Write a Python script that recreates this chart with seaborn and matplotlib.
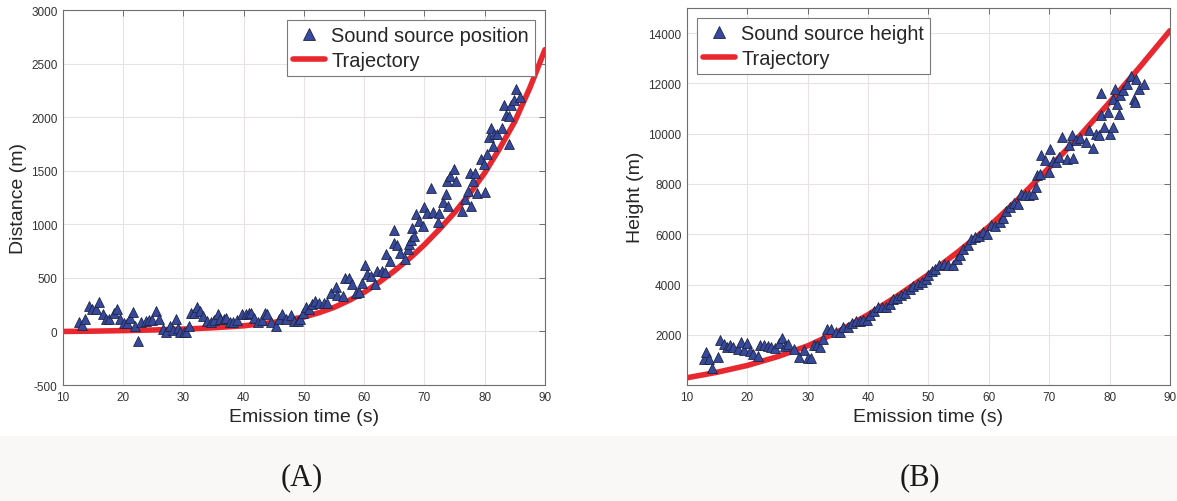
import numpy as np
import pandas as pd
import matplotlib
matplotlib.use("Agg")
import matplotlib.pyplot as plt
import seaborn as sns
from matplotlib.lines import Line2D

# ---------------- data ----------------
# Panel A: sound source position (distance)
pos_t = [12.6, 13.2, 13.7, 14.3, 14.9, 15.4, 16.0, 16.6, 17.1, 17.7, 18.4, 19.0, 19.5, 20.1, 20.6,
         21.2, 21.6, 22.0, 22.5, 23.0, 23.7, 24.2, 24.8, 25.5, 25.9, 26.6, 27.1, 27.7, 28.2, 28.8,
         29.1, 29.4, 30.1, 30.4, 31.0, 31.3, 31.7, 32.3, 32.8, 33.3, 33.9, 34.5, 35.0, 35.7, 36.1,
         36.7, 37.1, 37.7, 38.3, 38.9, 39.7, 40.3, 40.9, 41.2, 41.7, 42.4, 43.0, 43.5, 43.9, 44.5,
         45.3, 45.9, 46.4, 47.1, 47.8, 48.3, 49.0, 49.4, 49.9, 50.3, 50.8, 51.4, 51.8, 52.5, 53.3,
         53.9, 54.5, 55.3, 55.5, 56.4, 56.8, 57.5, 58.0, 58.6, 59.2, 59.7, 60.1, 60.5, 61.1, 61.8,
         62.2, 63.0, 63.4, 63.7, 64.3, 64.9, 64.9, 65.5, 65.9, 66.7, 67.2, 67.5, 67.7, 68.0, 68.3,
         68.6, 69.1, 69.7, 69.9, 70.5, 71.1, 71.5, 72.2, 72.4, 73.0, 73.5, 73.8, 73.9, 74.3, 74.9,
         75.2, 76.3, 76.7, 77.2, 77.6, 77.7, 78.1, 78.4, 78.7, 79.4, 79.9, 80.0, 80.4, 80.7, 81.0,
         81.3, 81.6, 82.1, 82.9, 83.2, 83.5, 84.1, 84.1, 84.4, 84.8, 85.2, 85.9]
pos_d = [90, 59, 121, 239, 214, 214, 276, 161, 121, 121, 171, 214, 115, 78, 78,
         127, 183, 47, -90, 84, 99, 109, 109, 193, 115, 22, -9, 53, 12, 115,
         37, -9, -9, -9, 53, 177, 177, 224, 193, 140, 99, 90, 109, 161, 115,
         115, 130, 90, 84, 109, 161, 161, 171, 171, 130, 90, 109, 177, 161, 84,
         47, 115, 161, 115, 152, 99, 99, 121, 177, 224, 214, 255, 286, 264, 264,
         270, 363, 419, 339, 332, 503, 503, 441, 363, 370, 457, 618, 534, 519, 441,
         565, 565, 556, 721, 658, 944, 829, 804, 736, 680, 773, 814, 854, 969, 891,
         1093, 1031, 985, 1165, 1109, 1342, 1115, 1022, 1103, 1208, 1280, 1404, 1171, 1450, 1519,
         1404, 1124, 1233, 1311, 1482, 1171, 1404, 1482, 1295, 1606, 1559, 1301, 1652, 1817, 1901,
         1730, 1839, 1839, 1901, 2118, 2025, 1746, 2010, 2118, 2165, 2264, 2190]

traj_t = [10, 15, 20, 25, 30, 35, 40, 45, 50, 52.5, 55, 57.5, 60, 62.5, 65, 67.5, 70,
          72.5, 75, 77.5, 80, 82.5, 85, 87.5, 90]
traj_d = [0, 3, 8, 14, 22, 35, 53, 85, 135, 175, 225, 290, 365, 460, 565, 680, 810,
          955, 1110, 1285, 1480, 1710, 1960, 2275, 2630]

# Panel B: sound source height
hgt_t = [12.8, 13.2, 13.6, 14.2, 15.1, 15.5, 16.1, 16.6, 17.2, 17.7, 18.4, 18.9, 19.4, 19.9, 20.5,
         21.0, 21.7, 22.1, 22.8, 23.4, 23.9, 24.6, 25.2, 25.8, 26.3, 26.8, 27.7, 28.5, 29.4, 30.0,
         30.6, 31.0, 31.5, 32.1, 32.6, 33.2, 33.8, 34.6, 35.4, 35.9, 36.6, 37.3, 38.0, 38.7, 39.2,
         39.8, 40.3, 40.9, 41.6, 42.3, 43.0, 43.7, 44.2, 44.8, 45.4, 46.1, 46.9, 47.5, 48.2, 48.9,
         49.6, 50.0, 50.6, 51.1, 51.7, 52.5, 53.3, 54.1, 54.7, 55.2, 55.8, 56.5, 57.0, 57.7, 58.4,
         59.1, 59.7, 60.3, 61.0, 61.8, 62.3, 62.9, 63.5, 64.1, 64.9, 65.3, 66.0, 66.6, 67.3, 67.8,
         68.0, 68.5, 68.6, 69.3, 69.9, 70.2, 70.6, 71.1, 71.7, 72.2, 72.9, 73.3, 73.7, 74.0, 74.4,
         75.1, 76.1, 76.6, 77.3, 77.8, 78.3, 78.5, 78.5, 79.0, 79.8, 80.1, 80.5, 80.6, 80.9, 81.3,
         81.6, 81.7, 82.2, 82.9, 83.6, 84.1, 84.2, 84.4, 84.9, 85.7]
hgt_h = [1021, 1313, 1048, 676, 1114, 1777, 1645, 1512, 1578, 1512, 1446, 1711, 1379, 1671, 1340,
         1247, 1154, 1605, 1578, 1552, 1512, 1472, 1684, 1870, 1552, 1645, 1446, 1114, 1379, 1074,
         1074, 1578, 1578, 1512, 1844, 2215, 2241, 2109, 2109, 2308, 2308, 2480, 2533, 2533, 2573,
         2573, 2772, 2944, 3103, 3103, 3103, 3236, 3435, 3475, 3568, 3660, 3833, 3939, 4032, 4098,
         4231, 4363, 4536, 4629, 4761, 4828, 4788, 4788, 5027, 5159, 5424, 5557, 5822, 5889, 5928,
         6088, 6021, 6353, 6326, 6485, 6645, 6910, 7082, 7255, 7215, 7613, 7546, 7546, 7613, 7878,
         8342, 8408, 9138, 8939, 8475, 9403, 8899, 8873, 9072, 9867, 9005, 9536, 9960, 9032, 9735,
         9828, 9668, 10133, 9430, 10000, 9934, 11618, 10730, 10265, 10862, 10000, 10265, 11392, 11764, 11194,
         10796, 11525, 11724, 11989, 12294, 11392, 11260, 12188, 11764, 11989]

traj_h_t = [10, 15, 20, 25, 30, 35, 40, 45, 50, 55, 60, 65, 70, 75, 80, 85, 90]
traj_h = [290, 510, 780, 1130, 1560, 2120, 2800, 3570, 4400, 5320, 6300, 7430, 8650, 9900, 11250, 12650, 14100]

x_ticks = [10, 20, 30, 40, 50, 60, 70, 80, 90]
yA_ticks = [-500, 0, 500, 1000, 1500, 2000, 2500, 3000]
yB_ticks = [2000, 4000, 6000, 8000, 10000, 12000, 14000]

# ---------------- style ----------------
sns.set_theme(style="whitegrid")
plt.rcParams['font.family'] = ['Liberation Sans', 'DejaVu Sans']
plt.rcParams['axes.unicode_minus'] = False

BLUE = '#36499d'
EDGE = '#1f2545'
RED = '#e8282e'
TXT = '#262626'

fig = plt.figure(figsize=(11.77, 5.02), dpi=100)
fig.patch.set_facecolor('white')
# light band at bottom
fig.patches.append(plt.Rectangle((0, 0), 1, 0.129, transform=fig.transFigure,
                                 facecolor='#f9f8f6', edgecolor='none', zorder=0))

axA = fig.add_axes([0.0535, 0.231, 0.4095, 0.747])
axB = fig.add_axes([0.5837, 0.231, 0.4103, 0.751])


def style_axis(ax):
    ax.set_facecolor('white')
    ax.grid(True, color='#e6e3e0', linewidth=0.8)
    for s in ax.spines.values():
        s.set_visible(True)
        s.set_color('#6e6e6e')
        s.set_linewidth(0.8)
    ax.tick_params(direction='in', length=4, width=0.7, colors='#6e6e6e',
                   labelcolor='#333333', labelsize=8.5, top=True, right=True,
                   pad=4)


dfA_pts = pd.DataFrame({'t': pos_t, 'v': pos_d})
dfA_trj = pd.DataFrame({'t': traj_t, 'v': traj_d})
dfB_pts = pd.DataFrame({'t': hgt_t, 'v': hgt_h})
dfB_trj = pd.DataFrame({'t': traj_h_t, 'v': traj_h})

for ax, pts, trj, yticks, ylim, ylabel, lab, loc in [
        (axA, dfA_pts, dfA_trj, yA_ticks, (-500, 3000), 'Distance (m)', 'Sound source position', 'upper right'),
        (axB, dfB_pts, dfB_trj, yB_ticks, (0, 15000), 'Height (m)', 'Sound source height', 'upper left')]:
    sns.lineplot(data=trj, x='t', y='v', ax=ax, color=RED, linewidth=4.0, zorder=2, legend=False)
    sns.scatterplot(data=pts, x='t', y='v', ax=ax, marker='^', s=50, color=BLUE,
                    edgecolor=EDGE, linewidth=0.6, zorder=3, legend=False)
    ax.set_xlim(10, 90)
    ax.set_ylim(*ylim)
    ax.set_xticks(x_ticks)
    ax.set_yticks(yticks)
    style_axis(ax)
    ax.set_xlabel('Emission time (s)', fontsize=14, color=TXT, labelpad=4)
    ax.set_ylabel(ylabel, fontsize=14, color=TXT, labelpad=3)
    handles = [Line2D([], [], linestyle='none', marker='^', markersize=8,
                      markerfacecolor=BLUE, markeredgecolor=EDGE, markeredgewidth=0.6),
               Line2D([], [], color=RED, linewidth=4.0)]
    leg = ax.legend(handles, [lab, 'Trajectory'], loc=loc, fontsize=14.4, frameon=True,
                    fancybox=False, edgecolor='#7a7a7a', framealpha=1,
                    handlelength=1.6, handletextpad=0.3, borderpad=0.3,
                    labelspacing=0.32, borderaxespad=0.5)
    leg.get_frame().set_linewidth(0.8)
    for t in leg.get_texts():
        t.set_color(TXT)

fig.text(302 / 1177, 1 - 478 / 502, '(A)', ha='center', va='center', fontsize=22,
         family=['Liberation Serif', 'DejaVu Serif'], color='#1a1a1a')
fig.text(920 / 1177, 1 - 478 / 502, '(B)', ha='center', va='center', fontsize=22,
         family=['Liberation Serif', 'DejaVu Serif'], color='#1a1a1a')

fig.savefig('out.png', dpi=100)
